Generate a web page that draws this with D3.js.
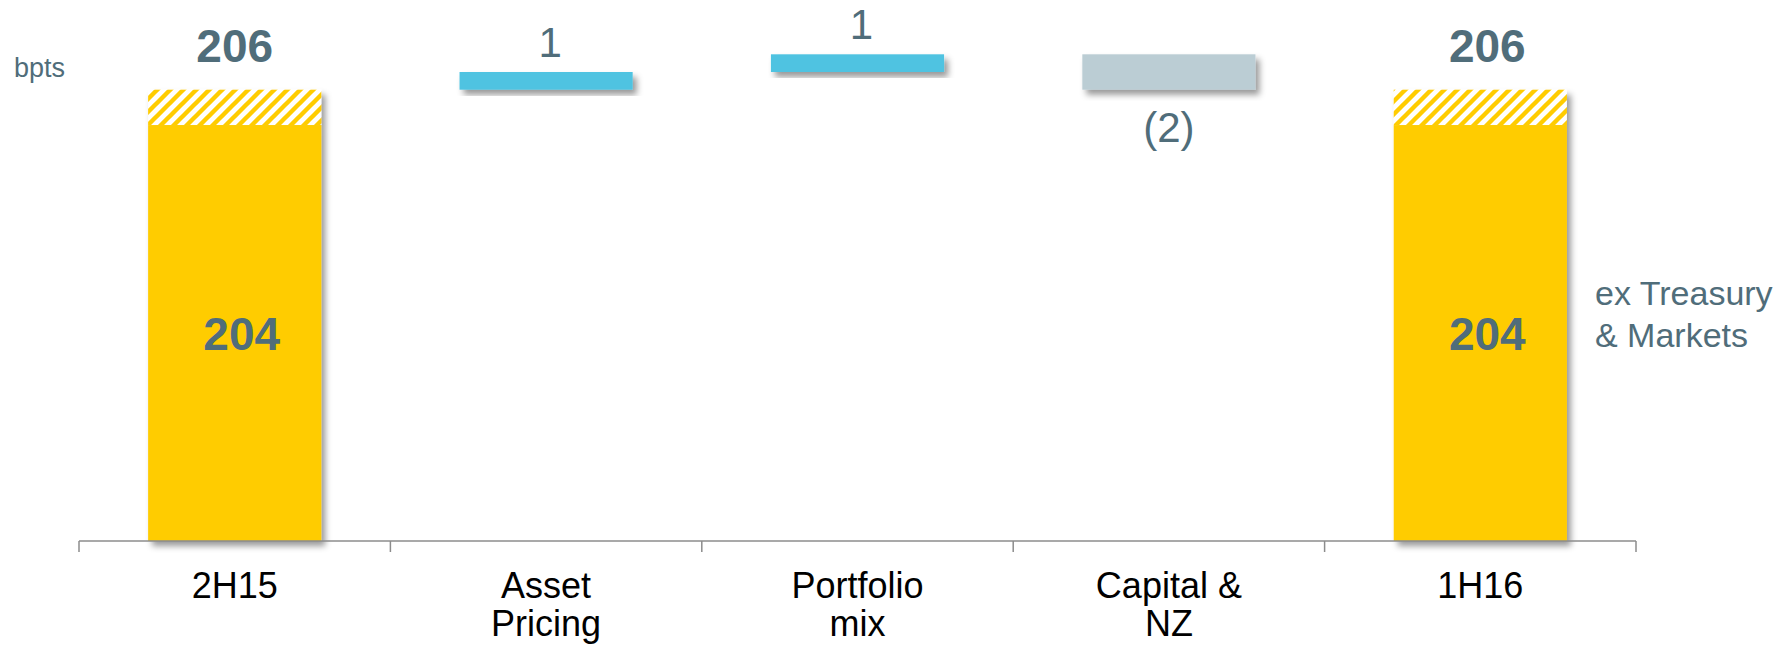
<!DOCTYPE html>
<html>
<head>
<meta charset="utf-8">
<script src="https://cdn.jsdelivr.net/npm/d3@7"></script>
<style>
  html, body { margin: 0; padding: 0; background: #ffffff; }
  svg { display: block; font-family: "Liberation Sans", Arial, sans-serif; }
</style>
</head>
<body>
<svg id="chart" width="1791" height="648"></svg>
<script>
// ---- data ----
const categories = ["2H15", "Asset Pricing", "Portfolio mix", "Capital & NZ", "1H16"];
const categoryLines = [["2H15"], ["Asset", "Pricing"], ["Portfolio", "mix"], ["Capital &", "NZ"], ["1H16"]];
const barTypes = ["total", "delta", "delta", "delta", "total"];
const totalValues = [206, null, null, null, 206];
const exTreasuryValues = [204, null, null, null, 204];
const deltaValues = [null, 1, 1, -2, null];
const deltaLabels = [null, "1", "1", "(2)", null];
const unitLabel = "bpts";
const exTreasuryNote = ["ex Treasury", "& Markets"];
const axisFloor = 180.5; // truncated value axis start

// ---- layout ----
const W = 1791, H = 648;
const svg = d3.select("#chart");
const colors = { total: "#FFCC00", up: "#4FC3E1", down: "#BBCDD4", text: "#506D7A", axis: "#8C8C8C" };

// build waterfall
let running = 0;
const bars = categories.map((c, i) => {
  if (barTypes[i] === "total") {
    running = totalValues[i];
    return { cat: c, i, type: "total", y0: axisFloor, y1: totalValues[i], ex: exTreasuryValues[i] };
  } else {
    const start = running;
    running = running + deltaValues[i];
    return { cat: c, i, type: "delta", y0: Math.min(start, running), y1: Math.max(start, running), v: deltaValues[i], label: deltaLabels[i] };
  }
});
const maxVal = d3.max(bars, d => d.y1);

const x = d3.scaleBand().domain(categories).range([79, 1636]).paddingInner(0.444).paddingOuter(0.222);
const y = d3.scaleLinear().domain([axisFloor, maxVal]).range([541, 54.3]);

// defs
const defs = svg.append("defs");
const P = 13;
const pat = defs.append("pattern").attr("id", "hatch").attr("patternUnits", "userSpaceOnUse")
  .attr("width", P).attr("height", P);
pat.append("rect").attr("width", P).attr("height", P).attr("fill", "#ffffff");
pat.append("path").attr("d", `M-3,3 L3,-3 M0,${P} L${P},0 M${P-3},${P+3} L${P+3},${P-3}`)
  .attr("stroke", colors.total).attr("stroke-width", 4.4);
const filt = defs.append("filter").attr("id", "shadow").attr("x", "-20%").attr("y", "-20%").attr("width", "150%").attr("height", "150%");
filt.append("feDropShadow").attr("dx", 4).attr("dy", 5).attr("stdDeviation", 3)
  .attr("flood-color", "#000").attr("flood-opacity", 0.4);

// bars
const bw = x.bandwidth();
bars.forEach(d => {
  const g = svg.append("g").attr("filter", "url(#shadow)");
  const bx = x(d.cat);
  if (d.type === "total") {
    g.append("rect").attr("x", bx).attr("width", bw)
      .attr("y", y(d.y1)).attr("height", y(d.ex) - y(d.y1)).attr("fill", "url(#hatch)");
    g.append("rect").attr("x", bx).attr("width", bw)
      .attr("y", y(d.ex)).attr("height", y(axisFloor) - y(d.ex)).attr("fill", colors.total);
  } else {
    g.append("rect").attr("x", bx).attr("width", bw)
      .attr("y", y(d.y1)).attr("height", y(d.y0) - y(d.y1))
      .attr("fill", d.v >= 0 ? colors.up : colors.down);
  }
});

// axis (line with ticks at band boundaries)
const axisY = y(axisFloor);
const axisG = svg.append("g");
axisG.append("line").attr("x1", x.range()[0]).attr("x2", x.range()[1])
  .attr("y1", axisY).attr("y2", axisY).attr("stroke", colors.axis).attr("stroke-width", 1.5);
const step = x.step();
const bounds = categories.map(c => x(c) - x.paddingOuter() * step).concat([x.range()[1]]);
axisG.selectAll("line.tick").data(bounds).enter().append("line").attr("class", "tick")
  .attr("x1", d => d).attr("x2", d => d).attr("y1", axisY).attr("y2", axisY + 11)
  .attr("stroke", colors.axis).attr("stroke-width", 1.5);

// category labels
categories.forEach((c, i) => {
  const t = svg.append("text").attr("x", x(c) + bw / 2).attr("y", 598)
    .attr("text-anchor", "middle").attr("font-size", 36).attr("fill", "#000");
  categoryLines[i].forEach((ln, k) => {
    t.append("tspan").attr("x", x(c) + bw / 2).attr("dy", k === 0 ? 0 : 38).text(ln);
  });
});

// value labels
bars.forEach(d => {
  const cx = x(d.cat) + bw / 2;
  if (d.type === "total") {
    svg.append("text").attr("x", cx + (d.i === 0 ? 0 : 7)).attr("y", y(d.y1) - 28)
      .attr("text-anchor", "middle").attr("font-size", 46).attr("font-weight", "bold")
      .attr("fill", colors.text).text(d.y1);
    const mid = (y(d.ex) + y(axisFloor)) / 2;
    svg.append("text").attr("x", cx + 7).attr("y", mid + 17)
      .attr("text-anchor", "middle").attr("font-size", 46).attr("font-weight", "bold")
      .attr("fill", colors.text).text(d.ex);
  } else if (d.v >= 0) {
    svg.append("text").attr("x", cx + 4).attr("y", y(d.y1) - 15)
      .attr("text-anchor", "middle").attr("font-size", 42).attr("fill", colors.text).text(d.label);
  } else {
    svg.append("text").attr("x", cx).attr("y", y(d.y0) + 52)
      .attr("text-anchor", "middle").attr("font-size", 42).attr("fill", colors.text).text(d.label);
  }
});

// unit label
svg.append("text").attr("x", 14).attr("y", 77).attr("font-size", 27).attr("fill", colors.text).text(unitLabel);

// ex Treasury note
const note = svg.append("text").attr("x", 1595).attr("y", 305).attr("font-size", 34).attr("fill", colors.text);
exTreasuryNote.forEach((ln, k) => {
  note.append("tspan").attr("x", 1595).attr("dy", k === 0 ? 0 : 42).text(ln);
});
</script>
</body>
</html>
